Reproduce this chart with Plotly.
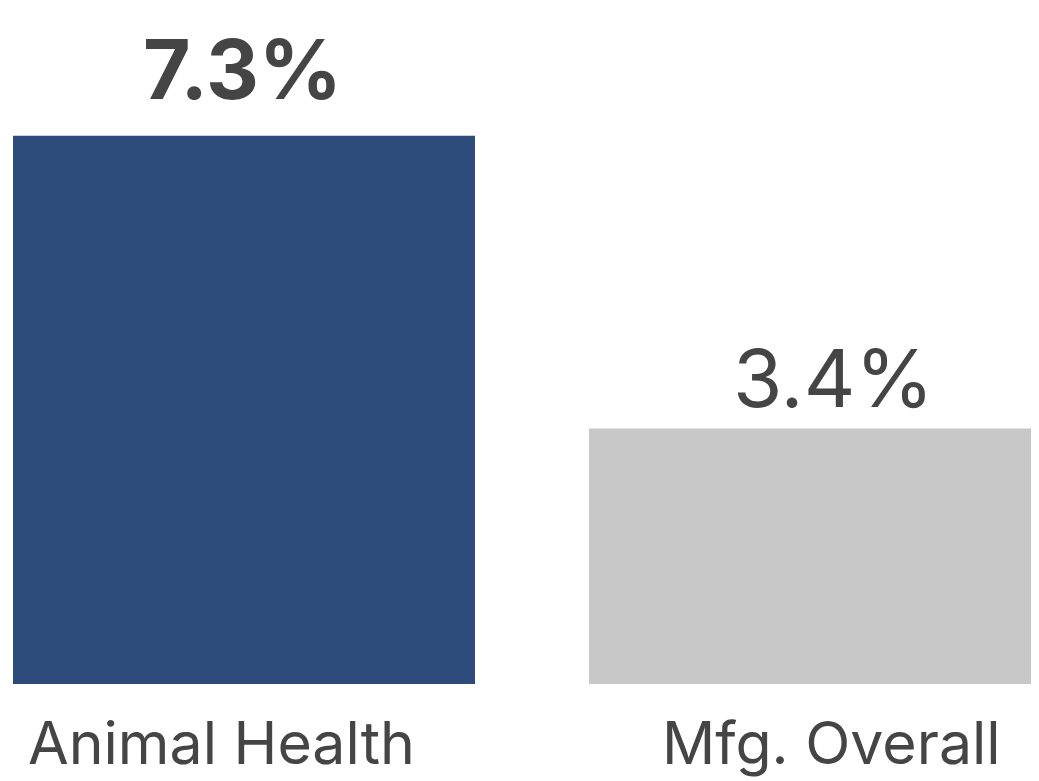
import plotly.graph_objects as go

categories = ["Animal Health", "Mfg. Overall"]
values = [7.3, 3.4]
value_labels = ["7.3%", "3.4%"]
bar_colors = ["#2c4a7a", "#c8c8c8"]

TEXT = "#454545"
FONT = "Inter"

fig = go.Figure()
fig.add_trace(go.Bar(
    x=categories, y=values, width=0.802,
    marker=dict(color=bar_colors, line=dict(width=0)),
    hoverinfo="skip",
))

annotations = []
# value labels
for i, (c, v, t) in enumerate(zip(categories, values, value_labels)):
    bold = i == 0
    annotations.append(dict(
        x=c, y=v, xref="x", yref="y", yanchor="bottom", showarrow=False,
        text=f"<b>{t}</b>" if bold else t,
        font=dict(family=FONT, size=82 if bold else 80, color=TEXT),
        yshift=15 if bold else 1, xshift=-2 if bold else 13,
    ))
# category labels
xshifts = [-23, 11]
for c, xs in zip(categories, xshifts):
    annotations.append(dict(
        x=c, y=0, xref="x", yref="y", yanchor="top", showarrow=False,
        text=c, font=dict(family=FONT, size=59, color=TEXT),
        yshift=-21, xshift=xs,
    ))

fig.update_layout(
    width=1039, height=773,
    margin=dict(l=0, r=0, t=0, b=0),
    paper_bgcolor="white", plot_bgcolor="white",
    showlegend=False,
    xaxis=dict(range=[-0.4097, 1.394], showticklabels=False, showgrid=False,
               zeroline=False, showline=False, fixedrange=True),
    yaxis=dict(range=[0, 9.0], domain=[0.1255, 1], showticklabels=False,
               showgrid=False, zeroline=False, showline=False, fixedrange=True),
    annotations=annotations,
)

fig.write_html("out.html", config={"displayModeBar": False})
